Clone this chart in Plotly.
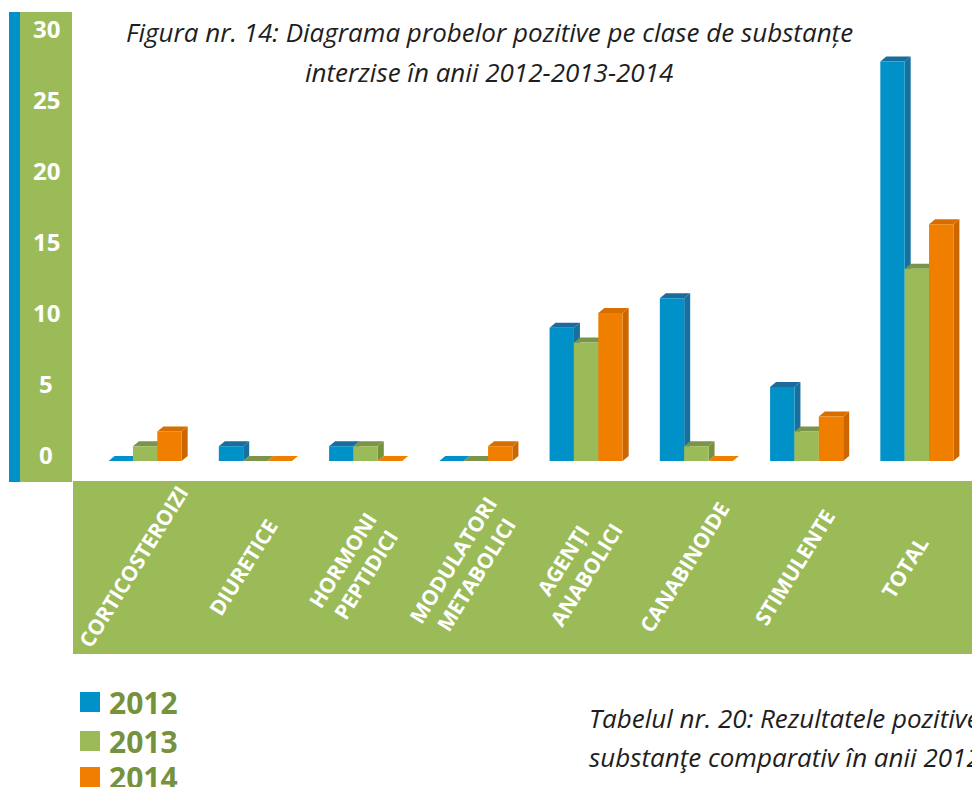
import plotly.graph_objects as go

# ── DATA ────────────────────────────────────────────────────────
categories = ['CORTICOSTEROIZI', 'DIURETICE', 'HORMONI<br>PEPTIDICI',
              'MODULATORI<br>METABOLICI', 'AGENȚI<br>ANABOLICI',
              'CANABINOIDE', 'STIMULENTE', 'TOTAL']
years = ['2012', '2013', '2014']
values_2012 = [0, 1, 1, 0, 9, 11, 5, 27]
values_2013 = [1, 0, 1, 0, 8, 1, 2, 13]
values_2014 = [2, 0, 0, 1, 10, 0, 3, 16]
y_ticks = [0, 5, 10, 15, 20, 25, 30]

title_lines = ['Figura nr. 14: Diagrama probelor pozitive pe clase de substanțe',
               'interzise în anii 2012-2013-2014']
caption_lines = ['Tabelul nr. 20: Rezultatele pozitive',
                 'substanţe comparativ în anii 2012']

# ── STYLE ───────────────────────────────────────────────────────
front_colors = ['#0091C9', '#9BBB59', '#F07F00']
side_colors = ['#17709F', '#76923C', '#CC6600']
top_colors = ['#1B6C9A', '#7A9549', '#D96E00']
flat_colors = ['#0091C9', '#7A9549', '#F07F00']
green = '#9BBB59'
blue = '#0091C9'
olive = '#76923C'
font = 'Open Sans'

W, H = 972, 787
L, R, T, B = 90, 0, 12, 306
plot_w = W - L - R
plot_h = H - T - B
x_range = [-0.5, 7.5]
y_range = [-1.35, 30.34]
y_label_range = [-1.9, 31.13]

bar_w = 0.221
dx = 6 * (x_range[1] - x_range[0]) / plot_w
dy = 5 * (y_range[1] - y_range[0]) / plot_h


def px_x(px):
    return (px - L) / plot_w


def px_y(py):
    return (H - B - py) / plot_h


# ── BARS (front faces) + 3D sides/tops ─────────────────────────
series = [values_2012, values_2013, values_2014]
fig = go.Figure()
shapes = []
for s, (year, vals) in enumerate(zip(years, series)):
    off = (s - 1.5) * bar_w
    fig.add_trace(go.Bar(
        x=list(range(len(categories))), y=vals, name=year,
        width=bar_w, offset=off,
        marker=dict(color=front_colors[s], line_width=0),
        showlegend=False
    ))
    for i, v in enumerate(vals):
        x0 = i + off
        x1 = x0 + bar_w
        top = (f'M {x0},{v} L {x1},{v} L {x1 + dx},{v + dy} '
               f'L {x0 + dx},{v + dy} Z')
        if v > 0:
            side = (f'M {x1},0 L {x1 + dx},{dy} L {x1 + dx},{v + dy} '
                    f'L {x1},{v} Z')
            shapes.append(dict(type='path', path=side, xref='x', yref='y',
                               fillcolor=side_colors[s], line_width=0,
                               layer='below'))
            shapes.append(dict(type='path', path=top, xref='x', yref='y',
                               fillcolor=top_colors[s], line_width=0,
                               layer='below'))
        else:
            shapes.append(dict(type='path', path=top, xref='x', yref='y',
                               fillcolor=flat_colors[s], line_width=0,
                               layer='below'))

# ── PANELS ─────────────────────────────────────────────────────
shapes.append(dict(type='rect', xref='paper', yref='paper',
                   x0=px_x(9), x1=px_x(20), y0=px_y(482), y1=px_y(12),
                   fillcolor=blue, line_width=0))
shapes.append(dict(type='rect', xref='paper', yref='paper',
                   x0=px_x(20), x1=px_x(72), y0=px_y(482), y1=px_y(12),
                   fillcolor=green, line_width=0))
shapes.append(dict(type='rect', xref='paper', yref='paper',
                   x0=px_x(73), x1=px_x(972), y0=px_y(654), y1=px_y(481),
                   fillcolor=green, line_width=0))

annotations = []
# y tick labels
for t in y_ticks:
    annotations.append(dict(
        x=px_x(46), y=t, xref='paper', yref='y2', text=str(t),
        showarrow=False, xanchor='center', yanchor='middle',
        font=dict(family=font, size=24, color='white', weight='bold')
    ))
# category labels
for i, c in enumerate(categories):
    annotations.append(dict(
        x=i, y=px_y(567), xref='x', yref='paper', text=c, xshift=-12,
        showarrow=False, textangle=-58, xanchor='center', yanchor='middle',
        align='center',
        font=dict(family=font, size=21, color='white', weight='bold')
    ))
# title
for k, line in enumerate(title_lines):
    annotations.append(dict(
        x=px_x(489), y=px_y(32 + 40 * k), xref='paper', yref='paper',
        text=f'<i>{line}</i>', showarrow=False,
        xanchor='center', yanchor='middle',
        font=dict(family=font, size=26, color='#1E1E1E')
    ))
# caption bottom right
for k, line in enumerate(caption_lines):
    annotations.append(dict(
        x=px_x(587), y=px_y(718 + 39 * k), xref='paper', yref='paper',
        text=f'<i>{line}</i>', showarrow=False,
        xanchor='left', yanchor='middle',
        font=dict(family=font, size=26, color='#1E1E1E')
    ))
# legend
legend_rows = [702, 741, 777]
for s, year in enumerate(years):
    yc = legend_rows[s]
    shapes.append(dict(type='rect', xref='paper', yref='paper',
                       x0=px_x(80), x1=px_x(100),
                       y0=px_y(yc + 10), y1=px_y(yc - 10),
                       fillcolor=front_colors[s], line_width=0))
    annotations.append(dict(
        x=px_x(107), y=px_y(yc), xref='paper', yref='paper', text=year,
        showarrow=False, xanchor='left', yanchor='middle',
        font=dict(family=font, size=30, color=olive, weight='bold')
    ))

fig.update_layout(
    width=W, height=H,
    margin=dict(l=L, r=R, t=T, b=B),
    paper_bgcolor='white', plot_bgcolor='white',
    barmode='overlay',
    xaxis=dict(range=x_range, visible=False, fixedrange=True),
    yaxis=dict(range=y_range, visible=False, fixedrange=True),
    yaxis2=dict(range=y_label_range, overlaying='y', visible=False),
    shapes=shapes,
    annotations=annotations,
    showlegend=False,
)

fig.write_html('out.html', config={'displayModeBar': False},
               post_script="document.body.style.margin='0';")
